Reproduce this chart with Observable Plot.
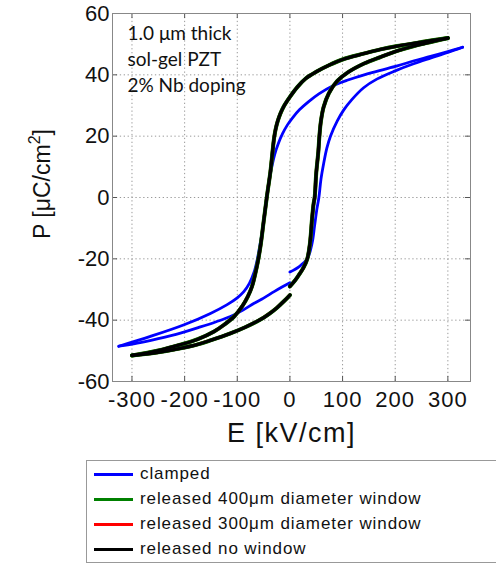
<!DOCTYPE html>
<html><head><meta charset="utf-8">
<script src="https://cdn.jsdelivr.net/npm/d3@7"></script>
<script src="https://cdn.jsdelivr.net/npm/@observablehq/plot@0.6"></script>
<style>
body{margin:0;background:#fff;font-family:"Liberation Sans",Arial,sans-serif;}
#chart{position:relative;width:496px;height:565px;overflow:hidden;}
#legend{position:absolute;left:86px;top:460px;width:440px;height:101px;border:1px solid #999;border-right:none;background:#fff;}
.row{position:absolute;left:0;height:20px;display:flex;align-items:center;font-size:17px;letter-spacing:0.9px;color:#111;white-space:nowrap;}
.sw{display:inline-block;width:39px;height:3px;margin-left:7px;margin-right:7px;}
g[aria-label="x-axis tick label"] text{letter-spacing:1px;}
</style></head><body><div id="chart"></div>
<script>
// Tick labels
const xTicks = [-300, -200, -100, 0, 100, 200, 300];
const yTicks = [-60, -40, -20, 0, 20, 40, 60];
const annotation = "1.0 μm thick\nsol-gel PZT\n2% Nb doping";

// Series names / colours
const seriesNames = ["clamped", "released 400μm diameter window", "released 300μm diameter window", "released no window"];
const seriesColors = ["#0000ff", "#008000", "#ff0000", "#000000"];

// clamped film: [E kV/cm, P μC/cm²]
const clampedRise = [[0,-24.3],[17,-22.6],[33,-20],[42,-15],[47,-9],[51,-4],[55,0],[59,6],[64,11],[70,16],[77,20],[90,25],[102,28.5],[118,32],[140,35.8],[165,38.6],[200,41.3],[235,43.6],[268,45.5],[300,47.3],[328,49]];
const clampedFall = [[328,49],[300,47.6],[267,46],[236,44.6],[204,42.9],[170,41.4],[141,40],[110,38.3],[80,36.3],[55,33.8],[35,31.2],[18,28.6],[5,26],[-5,23.6],[-14,20.8],[-22,17.6],[-29,14],[-35,9.5],[-40,5],[-44,0],[-48,-5],[-52,-10.4],[-57,-15.5],[-62,-20.2],[-68,-24.3],[-77,-28],[-88,-30.8],[-100,-32.7],[-120,-35],[-151,-37.8],[-201,-41.5],[-265,-45.3],[-325,-48.5]];
const clampedReturn = [[-325,-48.5],[-290,-47.5],[-250,-46],[-208,-44.2],[-170,-42.2],[-140,-40.5],[-113,-38.8],[-90,-36.8],[-68,-34.5],[-50,-32.8],[-30,-30.7],[-15,-29.2],[0,-27.8]];

// released films (curves overlap)
const releasedRise = [[0,-29],[10,-27],[18,-25],[26,-22.8],[33,-20],[38,-15],[42,-7],[45,-2],[47,0],[50,8],[54,15],[56,20],[59,25],[64,29.5],[74,34],[90,38],[110,40.8],[141,43.7],[172,45.8],[204,47.8],[236,49.4],[270,50.8],[300,52]];
const releasedFall = [[300,52],[250,50.7],[204,49.4],[172,48.3],[140,46.9],[100,45],[75,43.2],[50,41],[30,38.8],[14,36],[0,32.8],[-12,29.6],[-18,27.4],[-23,25],[-27,22.4],[-30,19.5],[-33,15],[-37,8.5],[-44,0],[-50,-8],[-56,-16],[-61,-21],[-66,-25],[-72,-29],[-80,-32.3],[-90,-35.3],[-106,-38.8],[-125,-41.5],[-144,-43.7],[-175,-46.2],[-208,-48],[-250,-49.9],[-300,-51.5]];
const releasedReturn = [[-300,-51.5],[-250,-50.5],[-208,-49.2],[-175,-47.9],[-151,-46.6],[-113,-44.3],[-85,-42.3],[-56,-39.8],[-40,-38],[-25,-36],[-10,-33.6],[0,-31.8]];

function table(series, branches) {
  const rows = [];
  branches.forEach((b, i) => b.forEach(([E, P]) => rows.push({series, seg: series + i, E, P})));
  return rows;
}
const clamped = table(seriesNames[0], [clampedRise, clampedFall, clampedReturn]);
const rel400 = table(seriesNames[1], [releasedRise, releasedFall, releasedReturn]);
const rel300 = table(seriesNames[2], [releasedRise, releasedFall, releasedReturn]);
const relNo = table(seriesNames[3], [releasedRise, releasedFall, releasedReturn]);

const W = 496, H = 458, mL = 112, mR = 26, mT = 13, mB = 77;
const innerW = W - mL - mR, innerH = H - mT - mB;
const lineOpts = (c, w) => ({x: "E", y: "P", z: "seg", stroke: c, strokeWidth: w, curve: "catmull-rom", strokeLinecap: "round"});
const fmt = d => String(d);

const plot = Plot.plot({
  width: W, height: H,
  marginLeft: mL, marginRight: mR, marginTop: mT, marginBottom: mB,
  style: {fontFamily: "'Liberation Sans', Arial, sans-serif", background: "#fff"},
  x: {domain: [-337, 343], label: null},
  y: {domain: [-60, 60], label: null},
  marks: [
    Plot.gridX(xTicks, {stroke: "#999", strokeOpacity: 1, strokeDasharray: "1.3,2.6"}),
    Plot.gridY(yTicks.slice(1, -1), {stroke: "#999", strokeOpacity: 1, strokeDasharray: "1.3,2.6"}),
    Plot.tickX(xTicks, {x: d => d, stroke: "#555", insetTop: innerH - 5}),
    Plot.tickX(xTicks, {x: d => d, stroke: "#555", insetBottom: innerH - 5}),
    Plot.tickY(yTicks, {y: d => d, stroke: "#555", insetLeft: innerW - 5}),
    Plot.tickY(yTicks, {y: d => d, stroke: "#555", insetRight: innerW - 5}),
    Plot.frame({stroke: "#888"}),
    Plot.axisX(xTicks, {tickSize: 0, tickPadding: 10, fontSize: 22, label: null, fill: "#111", tickFormat: fmt}),
    Plot.axisY(yTicks, {tickSize: 0, tickPadding: 3, fontSize: 22, label: null, fill: "#111", tickFormat: fmt}),
    Plot.line(clamped, lineOpts(seriesColors[0], 2.8)),
    Plot.line(rel300, lineOpts(seriesColors[2], 3.5)),
    Plot.line(rel400, lineOpts(seriesColors[1], 4.0)),
    Plot.line(relNo, lineOpts(seriesColors[3], 3.3)),
    Plot.text([annotation], {frameAnchor: "top-left", dx: 15, dy: 8, lineAnchor: "top", lineHeight: 1.37, fontSize: 19, fontFamily: "Lato", textAnchor: "start", fill: "#111"}),
    Plot.text(["E [kV/cm]"], {frameAnchor: "bottom", dy: 60, fontSize: 27, fill: "#111"})
  ]
});

const chart = document.getElementById("chart");
chart.appendChild(plot);
// x label letter spacing
d3.select(plot).selectAll("text").filter(function(){ return this.textContent === "E [kV/cm]"; }).style("letter-spacing", "1.5px");
// y-axis label with superscript
const svg = d3.select(plot);
const yl = svg.append("text")
  .attr("transform", "translate(50,184) rotate(-90)")
  .attr("text-anchor", "middle")
  .attr("font-size", 23).attr("fill", "#111")
  .attr("font-family", "'Liberation Sans', Arial, sans-serif");
yl.append("tspan").text("P [μC/cm");
yl.append("tspan").attr("dy", -10).attr("font-size", 16).text("2");
yl.append("tspan").attr("dy", 10).text("]");

// legend
const legend = document.createElement("div");
legend.id = "legend";
const rowCenters = [13, 38, 63, 88];
seriesNames.forEach((n, i) => {
  const r = document.createElement("div");
  r.className = "row";
  r.style.top = (rowCenters[i] - 10) + "px";
  r.innerHTML = `<span class="sw" style="background:${seriesColors[i]}"></span><span>${n}</span>`;
  legend.appendChild(r);
});
chart.appendChild(legend);
</script></body></html>
